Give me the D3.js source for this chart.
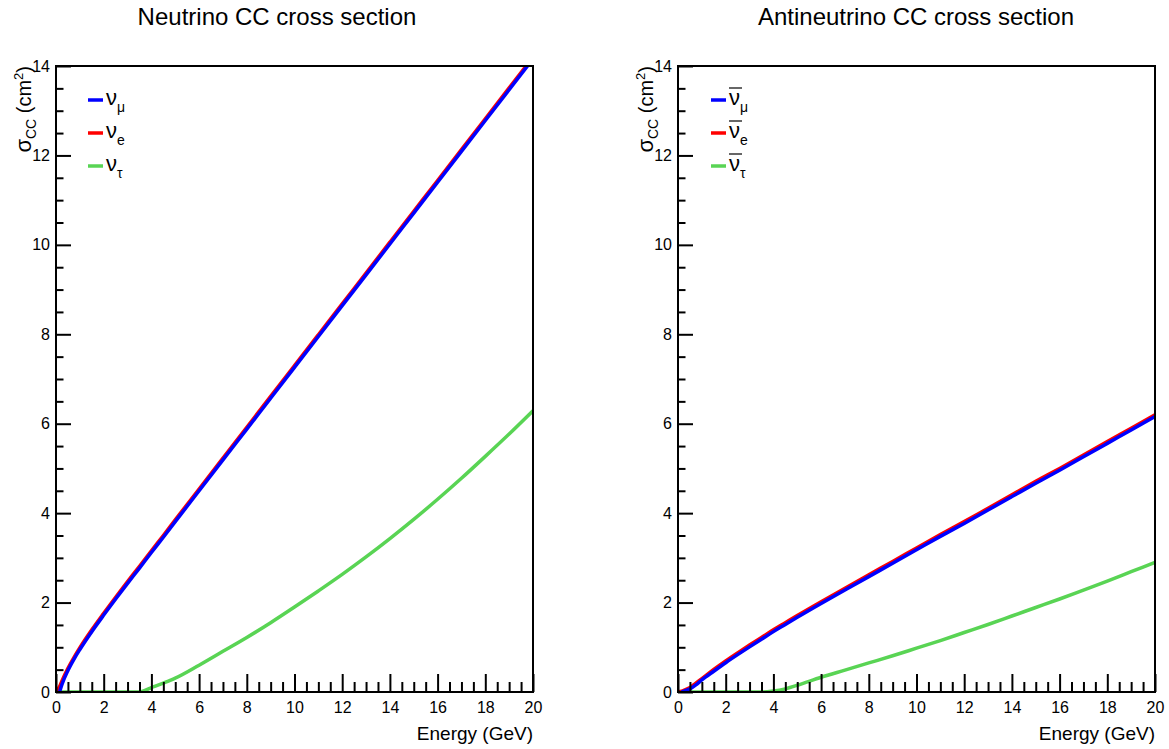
<!DOCTYPE html>
<html>
<head>
  <meta charset="utf-8">
  <title>CC cross sections</title>
  <script src="https://d3js.org/d3.v7.min.js"></script>
  <style>
    body { margin: 0; background: #fff; }
    text { font-family: "Liberation Sans", Arial, sans-serif; fill: #000; }
    .axis path { display: none; }
    .axis line { stroke: #000; stroke-width: 2; }
    .axis text { font-size: 16px; }
  </style>
</head>
<body>
<script>
// energy grid (GeV), shared by every curve
var energy = [0, 0.15, 0.25, 0.5, 0.75, 1, 1.5, 2, 2.5, 3, 3.5, 4, 4.5, 5, 6, 7, 8, 9, 10,
              11, 12, 13, 14, 15, 16, 17, 18, 19, 20];

// neutrino cross sections (null = below threshold)
var nuMu  = [null, 0, 0.17, 0.48, 0.73, 0.95, 1.35, 1.72, 2.08, 2.43, 2.77, 3.12, 3.46, 3.81, 4.50,
             5.19, 5.88, 6.57, 7.26, 7.95, 8.64, 9.33, 10.02, 10.71, 11.40, 12.09, 12.78, 13.47, 14.16];
var nuE   = [0, 0.12, 0.25, 0.53, 0.77, 0.99, 1.39, 1.76, 2.12, 2.47, 2.81, 3.16, 3.50, 3.85, 4.54,
             5.23, 5.92, 6.61, 7.30, 7.99, 8.68, 9.37, 10.06, 10.75, 11.44, 12.13, 12.82, 13.51, 14.20];
var nuTau = [null, 0, 0, 0, 0, 0, 0, 0, 0, 0, 0, 0.1, 0.2, 0.31, 0.6,
             0.91, 1.22, 1.55, 1.9, 2.26, 2.63, 3.02, 3.43, 3.86, 4.31, 4.78, 5.27, 5.77, 6.29];

// antineutrino cross sections
var anuMu  = [null, 0, 0.02, 0.07, 0.16, 0.27, 0.465, 0.655, 0.835, 1.01, 1.18, 1.35, 1.51, 1.67, 1.98,
              2.28, 2.58, 2.88, 3.18, 3.48, 3.77, 4.07, 4.37, 4.67, 4.96, 5.26, 5.56, 5.86, 6.16];
var anuE   = [0, 0.02, 0.04, 0.10, 0.20, 0.30, 0.505, 0.695, 0.875, 1.05, 1.22, 1.39, 1.55, 1.71, 2.02,
              2.32, 2.62, 2.92, 3.22, 3.52, 3.81, 4.11, 4.41, 4.71, 5.00, 5.30, 5.60, 5.90, 6.20];
var anuTau = [null, 0, 0, 0, 0, 0, 0, 0, 0, 0, 0, 0.02, 0.07, 0.15, 0.33,
              0.49, 0.65, 0.81, 0.98, 1.15, 1.33, 1.51, 1.70, 1.89, 2.08, 2.28, 2.48, 2.69, 2.90];

var xMajor = d3.range(0, 21, 2);
var xMinor = d3.range(0, 20.01, 0.5).filter(function(v) { return v % 2 !== 0; });
var yMajor = d3.range(0, 15, 2);
var yMinor = d3.range(0, 14.01, 0.5).filter(function(v) { return v % 2 !== 0; });

var flavours = ['\u03bc', 'e', '\u03c4'];
var colours = ['#0000ff', '#ff0000', '#59d454'];

var svg = d3.select('body').append('svg')
  .attr('width', 1169)
  .attr('height', 749);

var TOP = 66, BOTTOM = 692;

function drawPanel(opt) {
  var x = d3.scaleLinear().domain([0, 20]).range([opt.left, opt.right]);
  var y = d3.scaleLinear().domain([0, 14]).range([BOTTOM, TOP]);
  var g = svg.append('g');

  // title
  g.append('text')
    .attr('x', opt.titleX)
    .attr('y', 25)
    .attr('text-anchor', 'middle')
    .style('font-size', '24px')
    .text(opt.title);

  // curves, clipped to frame
  g.append('clipPath').attr('id', opt.id + '-clip')
    .append('rect')
    .attr('x', opt.left).attr('y', TOP)
    .attr('width', opt.right - opt.left).attr('height', BOTTOM - TOP);

  var line = d3.line()
    .defined(function(d) { return d[1] !== null; })
    .x(function(d) { return x(d[0]); })
    .y(function(d) { return y(d[1]); })
    .curve(d3.curveMonotoneX);

  // draw tau, e, then mu on top
  var order = [2, 1, 0];
  var curves = g.append('g').attr('clip-path', 'url(#' + opt.id + '-clip)');
  order.forEach(function(k) {
    curves.append('path')
      .datum(energy.map(function(e, i) { return [e, opt.series[k][i]]; }))
      .attr('fill', 'none')
      .attr('stroke', colours[k])
      .attr('stroke-width', 3.5)
      .attr('stroke-linejoin', 'round')
      .attr('d', line);
  });

  // ticks
  g.append('g').attr('class', 'axis')
    .attr('transform', 'translate(0,' + BOTTOM + ')')
    .call(d3.axisBottom(x).tickValues(xMajor).tickSize(-18).tickPadding(10).tickFormat(d3.format('d')));
  g.append('g').attr('class', 'axis')
    .attr('transform', 'translate(0,' + BOTTOM + ')')
    .call(d3.axisBottom(x).tickValues(xMinor).tickSize(-10).tickFormat(''));
  g.append('g').attr('class', 'axis')
    .attr('transform', 'translate(' + opt.left + ',0)')
    .call(d3.axisLeft(y).tickValues(yMajor).tickSize(-15).tickPadding(6).tickFormat(d3.format('d')));
  g.append('g').attr('class', 'axis')
    .attr('transform', 'translate(' + opt.left + ',0)')
    .call(d3.axisLeft(y).tickValues(yMinor).tickSize(-7.5).tickFormat(''));

  // frame
  g.append('rect')
    .attr('x', opt.left).attr('y', TOP)
    .attr('width', opt.right - opt.left).attr('height', BOTTOM - TOP)
    .attr('fill', 'none').attr('stroke', '#000').attr('stroke-width', 2);

  // axis titles
  g.append('text')
    .attr('x', opt.right)
    .attr('y', 740)
    .attr('text-anchor', 'end')
    .style('font-size', '19px')
    .text('Energy (GeV)');

  var yt = g.append('text')
    .attr('transform', 'translate(' + (opt.left - 25) + ',' + TOP + ') rotate(-90)')
    .attr('text-anchor', 'end')
    .style('font-size', '20px');
  yt.append('tspan').style('font-size', '22px').text('\u03c3');
  yt.append('tspan').attr('dy', 5).style('font-size', '14px').text('CC');
  yt.append('tspan').attr('dy', -5).text(' (cm');
  yt.append('tspan').attr('dy', -8).style('font-size', '13px').text('2');
  yt.append('tspan').attr('dy', 8).text(')');

  // legend
  var lx = opt.left + opt.legendDx;
  var leg = g.append('g');
  [0, 1, 2].forEach(function(k) {
    var ly = 100 + k * 33;
    leg.append('line')
      .attr('x1', lx).attr('x2', lx + 15)
      .attr('y1', ly).attr('y2', ly)
      .attr('stroke', colours[k]).attr('stroke-width', 3.5);
    var t = leg.append('text')
      .attr('x', lx + 18)
      .attr('y', ly + 5)
      .style('font-size', '22px');
    t.append('tspan').text('\u03bd');
    t.append('tspan').attr('dy', 7).style('font-size', '14px').text(flavours[k]);
    if (opt.anti) {
      leg.append('line')
        .attr('x1', lx + 18).attr('x2', lx + 31)
        .attr('y1', ly - 12).attr('y2', ly - 12)
        .attr('stroke', '#000').attr('stroke-width', 1.2);
    }
  });
}

drawPanel({
  id: 'nu', left: 56, right: 533, titleX: 277,
  title: 'Neutrino CC cross section',
  series: [nuMu, nuE, nuTau], anti: false, legendDx: 32
});

drawPanel({
  id: 'anu', left: 678, right: 1155, titleX: 916,
  title: 'Antineutrino CC cross section',
  series: [anuMu, anuE, anuTau], anti: true, legendDx: 33
});
</script>
</body>
</html>
